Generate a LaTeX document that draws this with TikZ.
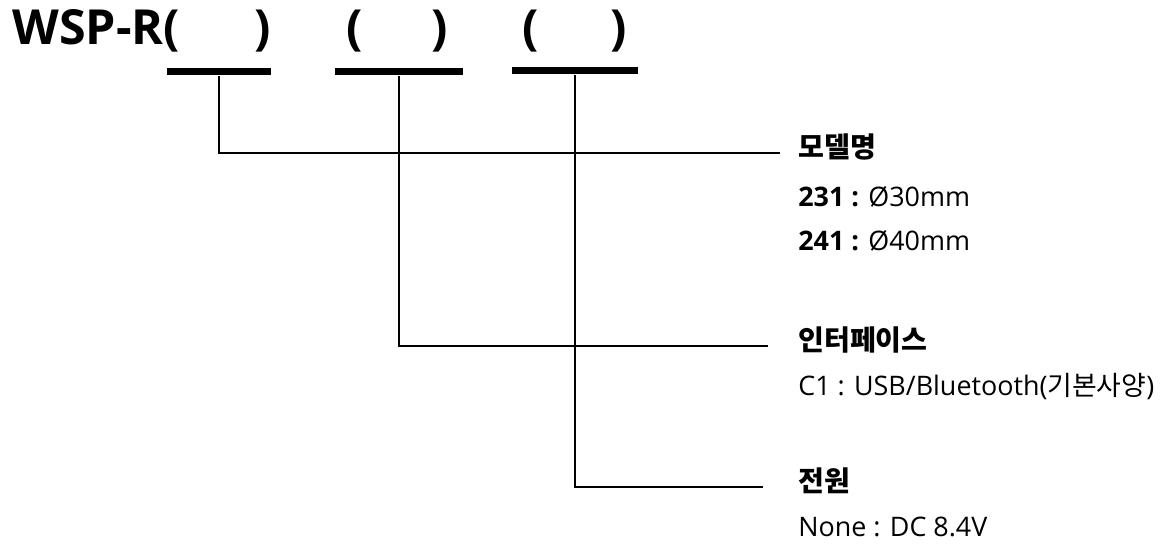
\documentclass[tikz,border=0pt]{standalone}
\usepackage{fontspec}
\setmainfont{Open Sans}
\newfontfamily\kr{Noto Sans CJK KR}
\usetikzlibrary{positioning}

\begin{document}
\begin{tikzpicture}[
    x=0.2mm, y=-0.2mm,
    bar/.style={fill, inner sep=0pt, minimum height=1.4mm},
    paren/.style={font=\fontsize{27.5}{32}\selectfont\bfseries, inner sep=0pt, anchor=base west},
    lead/.style={line width=1.1pt},
    head/.style={font=\kr\bfseries\fontsize{16}{19}\selectfont, inner sep=0pt, anchor=west, text height=0.75em, text depth=0.2em},
    item/.style={font=\fontsize{15.3}{18}\selectfont, inner sep=0pt, anchor=west, text height=0.75em, text depth=0.2em}
]
\useasboundingbox (0,0) rectangle (1163,548);

% ---- Model code ----
\node[paren] (title) at (12,45) {WSP-R(};
\node[paren] (close1) at (254,45) {)};
\node[paren] (open2) at (346,45) {(};
\node[paren] (close2) at (431,45) {)};
\node[paren] (open3) at (522,45) {(};
\node[paren] (close3) at (610,45) {)};

% ---- Blanks ----
\node[bar, minimum width=20.8mm] (bar1) at (219,72) {};
\node[bar, minimum width=25.6mm] (bar2) at (399,72) {};
\node[bar, minimum width=25.2mm] (bar3) at (575,71) {};

% ---- Model name ----
\node[head] (model) at (798,153) {모델명};
\node[item] (m231) at (798,202) {\textbf{231 :} Ø30mm};
\node[item] (m241) at (798,246) {\textbf{241 :} Ø40mm};

% ---- Interface ----
\node[head] (iface) at (798,346) {인터페이스};
\node[item] (c1) at (798,391) {C1 : USB/Bluetooth({\kr 기본사양})};

% ---- Power ----
\node[head] (power) at (798,487) {전원};
\node[item] (none) at (798,532) {None : DC 8.4V};

% ---- Leaders ----
\draw[lead] (bar1.south) |- ([xshift=-3.6mm]model.west);
\draw[lead] (bar2.south) |- ([xshift=-6mm]iface.west);
\draw[lead] (bar3.south) |- ([xshift=-7mm]power.west);

\end{tikzpicture}
\end{document}
